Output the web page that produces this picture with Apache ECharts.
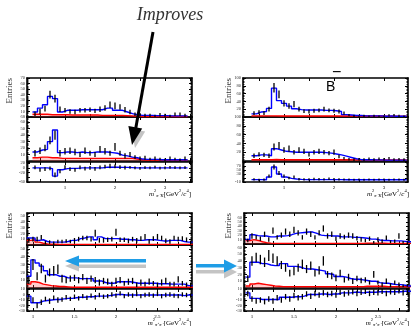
<!DOCTYPE html>
<html><head><meta charset="utf-8">
<script src="https://cdn.jsdelivr.net/npm/echarts@6/dist/echarts.min.js"></script>
<style>html,body{margin:0;padding:0;background:#fff}#c{width:411px;height:326px}</style>
</head><body><div id="c"></div>
<script>
// ---------------- data ----------------
const massPiK = [0.3,0.4,0.5,0.6,0.7,0.8,0.9,1.0,1.1,1.2,1.3,1.4,1.5,1.6,1.7,1.8,1.9,2.0,2.1,2.2,2.3,2.4,2.5,2.6,2.7,2.8,2.9,3.0,3.1,3.2,3.3,3.4];
const massPiPi = [0.95,1.00,1.05,1.10,1.15,1.20,1.25,1.30,1.35,1.40,1.45,1.50,1.55,1.60,1.65,1.70,1.75,1.80,1.85,1.90,1.95,2.00,2.05,2.10,2.15,2.20,2.25,2.30,2.35,2.40,2.45,2.50,2.55,2.60,2.65,2.70,2.75,2.80,2.85,2.90];

// top-left, upper / lower / residual
const tlUpperFit  = [null,9,16,22,37,33,9,12,12,12,13,13,13,13,13,16,16,12,12,9,6,4,3,3,3,2.5,2.5,2.5,2,2,2,2];
const tlUpperData = [null,6,10,15,40,33,14,12,10,9,12,12,13,11,14,16,22,20,18,13,9,5,4,3,3,2,4,3,2,5,5,3];
const tlUpperErr  = [null,4,5,5,7,7,5,4,4,4,4,4,4,4,5,5,6,6,5,5,4,3,3,3,3,2,3,3,2,3,3,3];
const tlUpperBkg  = [null,5,5,5,4,4,4,4,3.5,3.5,3.5,3.5,3.5,3.5,3,3,3,3,3,2.5,2,1.5,1,1,1,1,1,1,1,1,1,1];
const tlLowerFit  = [null,14,17,18,30,48,13,14,14,13,14,13,13,14,14,14,13,12,9,8,6,5,3,2.5,2.5,2.5,2,2,2,2,2,2];
const tlLowerData = [null,12,16,20,32,40,12,15,16,14,10,16,12,10,18,15,12,22,12,8,10,6,4,5,3,4,3,2,4,3,2,4];
const tlLowerErr  = [null,5,5,5,6,7,5,5,5,5,4,5,4,4,5,5,4,6,4,4,4,3,3,3,2,3,2,2,3,2,2,3];
const tlLowerBkg  = [null,5,6,6,5,5,4,4,4,4,4,4,4,4,4,4,4,4,4,4,4,3,2,1.5,1.5,1.5,1.5,1.5,1.5,1.5,1.5,1.5];
const tlResFit    = [null,0,0,0,-3,-35,-8,-3,-2,-2,0,0,0,0,0,3,3,3,2,2,1,0,0,0,0,0,0,0,0,0,0,0];
const tlResData   = [null,2,-8,-5,-2,-30,-15,3,-5,-8,2,-3,0,-4,2,5,8,6,3,1,2,0,-2,1,0,3,-1,0,2,1,0,1];
const tlResErr    = [null,8,8,8,8,10,8,8,8,8,8,8,8,8,8,8,10,8,8,8,6,6,6,6,6,6,6,6,6,6,6,6];

// top-right (B-)
const trUpperFit  = [null,8,13,14,22,74,42,35,28,21,19,18,18,18,18,17,17,16,14,6,5,4,4,3,3,3,3,2,3,2,2,2];
const trUpperData = [null,10,12,10,20,75,58,35,28,33,20,15,14,16,17,20,17,16,14,10,5,3,2,3,2,3,2,2,4,5,3,2];
const trUpperErr  = [null,5,5,5,6,12,10,8,7,8,6,5,5,5,5,6,5,5,5,4,3,3,2,3,2,3,2,2,3,3,3,2];
const trUpperBkg  = [null,3,3,3,3,3,2.5,2.5,2.5,2.5,2.5,2.5,2.5,2.5,2.5,2.5,2.5,2.5,2.5,2.5,2.5,2.5,2.5,2.5,2.5,2.5,2.5,2,2,2,2,2];
const trLowerFit  = [null,12,14,14,12,28,25,22,21,20,20,20,20,20,20,19,18,16,14,11,8,5,3,3,3,2.5,2.5,2,2,2,2,2];
const trLowerData = [null,12,15,14,12,32,35,25,28,20,25,22,15,20,22,20,18,20,10,6,4,3,4,3,5,3,5,4,6,3,4,3];
const trLowerErr  = [null,5,5,5,5,8,8,6,7,5,6,6,5,5,6,5,5,6,4,3,3,3,3,3,3,3,3,3,3,3,3,3];
const trLowerBkg  = [null,3,3,3,3,3.5,3,3,3,3,3,3,3,3,3,3,3,3,3,3,3,2.5,2.5,2.5,2.5,2.5,2.5,2.5,2.5,2.5,2.5,2.5];
const trResFit    = [null,2,2,1,15,65,30,15,8,5,3,2,2,2,2,2,2,2,2,1,1,1,1,1,1,1,1,1,1,1,1,1];
const trResData   = [null,3,0,2,20,65,35,20,10,15,4,3,3,5,4,3,6,4,3,2,2,1,2,1,2,1,2,3,1,2,2,1];
const trResErr    = [null,6,6,6,8,12,10,8,6,8,6,6,6,6,6,6,6,6,6,5,5,5,5,5,5,5,5,5,5,5,5,5];

// bottom-left
const blUpperFit  = [12,12,8,9,6,5,5,5,5,6,8,8,11,12,14,14,9,14,11,11,11,11,10,10,9,9,8,8,9,9,9,8,7,7,8,8,8,6,5,5];
const blUpperData = [8,10,10,13,4,5,3,6,6,7,6,8,10,12,12,10,20,8,8,9,10,22,9,9,7,10,8,11,14,6,11,14,12,7,6,12,10,11,9,4];
const blUpperErr  = [4,4,4,4,3,3,3,3,3,3,3,4,4,4,4,4,6,4,4,4,4,6,4,4,4,4,4,4,5,4,4,5,4,4,4,4,4,4,4,3];
const blUpperBkg  = [8,9,5,3,2,1.5,1.5,1,1,1,1,1,1,1,1,1,1,1,1,1,1,1,1,1,1,1,1,1,1,1,1,1,1,1,1,1,1,1,1,1];
const blLowerFit  = [15,36,32,28,22,17,17,15,15,13,13,13,12,12,12,12,9,9,7,6,6,8,8,8,8,7,6,6,6,6,6,5.5,5.5,5.5,5,5,5,5,3,3];
const blLowerData = [10,30,15,25,12,20,22,24,12,10,12,13,10,14,9,12,10,7,9,8,5,9,10,6,8,9,4,7,5,8,6,4,7,9,5,5,11,6,4,4];
const blLowerErr  = [5,7,5,6,5,5,6,6,5,4,4,4,4,4,4,4,4,4,4,4,3,4,4,3,4,4,3,4,3,4,3,3,4,4,3,3,4,3,3,3];
const blLowerBkg  = [5,8,7,5,4,3,2.5,2,2,1.5,1,1,1,1,1,1,1,1,1,1,1,1,1,1,1,1,1,1,1,1,1,1,1,1,1,1,1,1,1,1];
const blResFit    = [-3,-15,-15,-12,-11,-10,-9,-9,-8,-7,-7,-6,-5,-5,-4,-4,-3,-3,-3,-2,-1,0,0,-1,-1,-1,-1,-1,-1,-1,-1,-1,-1,-1,-1,-1,-1,-2,-1,-1];
const blResData   = [-5,-10,-20,-14,-8,-12,-6,-10,-9,-5,-8,-4,-7,-3,-6,-2,-5,-1,-4,-3,0,-2,2,-3,0,-2,1,-3,-1,0,-2,1,-3,-1,0,-2,-3,0,-1,-2];
const blResErr    = [4,5,5,5,4,5,4,5,4,4,4,4,4,4,4,4,4,4,4,4,4,4,4,4,4,4,4,4,4,4,4,4,4,4,4,4,4,4,4,4];

// bottom-right
const brUpperFit  = [10,21,19,18,18,16,16,18,18,19,21,24,25,26,27,27,24,20,19,19,18,18,16,16,16,15,15,14,13,11,11,9,8,8,7,7,7,6,5,5];
const brUpperData = [8,18,15,12,22,10,30,15,20,28,22,32,25,15,28,22,15,25,35,18,22,12,18,16,20,18,13,10,8,12,4,10,6,14,5,6,18,4,3,3];
const brUpperErr  = [4,6,5,5,6,5,7,5,6,7,6,7,6,5,7,6,5,6,7,6,6,5,6,5,6,6,5,5,4,5,3,5,4,5,3,4,6,3,3,3];
const brUpperBkg  = [8,10,8,5,3,2,1.5,1.5,1.5,1.5,1.5,1.5,1.5,1.5,1.5,1.5,1.5,1.5,1.5,1.5,1.5,1.5,1.5,1.5,1.5,1.5,1.5,1.5,2,2,2,2,2,1.5,1.5,1.5,1.5,1.5,1.5,1.5];
const brLowerFit  = [16,38,38,36,36,34,33,33,36,36,32,32,31,29,28,28,27,26,25,21,20,17,17,16,14,13,13,12,11,10,10,8,7,7,6,5,5,4,3,3];
const brLowerData = [14,40,45,42,38,48,44,40,34,30,22,25,30,35,28,33,22,26,40,20,18,15,22,12,16,10,14,11,12,8,20,8,5,10,4,8,5,3,4,4];
const brLowerErr  = [5,7,7,7,7,8,7,7,6,6,5,6,6,7,6,6,5,6,7,5,5,5,5,4,5,4,4,4,4,3,5,3,3,4,3,3,3,2,2,2];
const brLowerBkg  = [3,6,7,6,5,4,3,2.5,2,2,2,2,2,2,2,2,2,2,2,2,2,2,2,2,2,2,2,2,2.5,2.5,2.5,2.5,2.5,2,2,2,2,2,2,2];
const brResFit    = [3,-7,-7,-9,-9,-9,-9,-9,-5,-5,-5,-4,-4,-3,0,0,0,1,1,0,1,1,3,3,3,4,4,3,4,4,4,5,5,5,5,5,5,6,6,6];
const brResData   = [2,-8,-12,-10,-13,-8,-12,-6,-10,-4,-8,-2,-6,-4,1,-3,2,-1,3,0,2,-1,4,1,3,5,2,4,6,2,4,3,6,2,5,4,7,3,5,5];
const brResErr    = [5,5,5,5,5,5,5,5,5,5,5,5,5,5,5,5,5,5,5,5,5,5,5,5,5,5,5,5,5,5,5,5,5,5,5,5,5,5,5,5];

const ticksPiK = [0.5,1,1.5,2,2.5,3,3.5];
const labelsPiK = [1,2,3];
const ticksPiPi = [1,1.25,1.5,1.75,2,2.25,2.5,2.75];
const labelsPiPi = [1,1.5,2,2.5];

// ---------------- layout ----------------
const panels = [
  {bins:massPiK, fit:tlUpperFit, data:tlUpperData, err:tlUpperErr, bkg:tlUpperBkg, g:[27,78,165,39], x:[0.24,3.54], y:[0,70,10], t:ticksPiK},
  {bins:massPiK, fit:tlLowerFit, data:tlLowerData, err:tlLowerErr, bkg:tlLowerBkg, g:[27,117,165,44], x:[0.24,3.54], y:[0,68,10], t:ticksPiK},
  {bins:massPiK, fit:tlResFit, data:tlResData, err:tlResErr, g:[27,162,165,20], x:[0.24,3.54], y:[-60,25,20], t:ticksPiK, l:labelsPiK},
  {bins:massPiK, fit:trUpperFit, data:trUpperData, err:trUpperErr, bkg:trUpperBkg, g:[243,78,165,39], x:[0.18,3.48], y:[0,100,20], t:ticksPiK},
  {bins:massPiK, fit:trLowerFit, data:trLowerData, err:trLowerErr, bkg:trLowerBkg, g:[243,117,165,44], x:[0.18,3.48], y:[0,100,20], t:ticksPiK},
  {bins:massPiK, fit:trResFit, data:trResData, err:trResErr, g:[243,162,165,20], x:[0.18,3.48], y:[-10,90,20], t:ticksPiK, l:labelsPiK},
  {bins:massPiPi, fit:blUpperFit, data:blUpperData, err:blUpperErr, bkg:blUpperBkg, g:[27,213,165,32], x:[0.928,2.916], y:[0,55,10], t:ticksPiPi},
  {bins:massPiPi, fit:blLowerFit, data:blLowerData, err:blLowerErr, bkg:blLowerBkg, g:[27,245,165,43], x:[0.928,2.916], y:[0,55,10], t:ticksPiPi},
  {bins:massPiPi, fit:blResFit, data:blResData, err:blResErr, g:[27,289,165,22], x:[0.928,2.916], y:[-30,10,10], t:ticksPiPi, l:labelsPiPi},
  {bins:massPiPi, fit:brUpperFit, data:brUpperData, err:brUpperErr, bkg:brUpperBkg, g:[244,213,165,31], x:[0.905,2.87], y:[0,70,10], t:ticksPiPi},
  {bins:massPiPi, fit:brLowerFit, data:brLowerData, err:brLowerErr, bkg:brLowerBkg, g:[244,244,165,44], x:[0.905,2.87], y:[0,65,10], t:ticksPiPi},
  {bins:massPiPi, fit:brResFit, data:brResData, err:brResErr, g:[244,289,165,22], x:[0.905,2.87], y:[-30,10,10], t:ticksPiPi, l:labelsPiPi}
];

function stepData(bins, vals) {
  const w = bins[1] - bins[0];
  const out = bins.map((c, i) => [c - w / 2, vals[i] == null ? '-' : vals[i]]);
  out.push([bins[bins.length - 1] + w / 2, vals[vals.length - 1]]);
  return out;
}

const grid = [], xAxis = [], yAxis = [], series = [];
const FONT = 'Liberation Serif';
panels.forEach((p, i) => {
  grid.push({left:p.g[0], top:p.g[1], width:p.g[2], height:p.g[3], containLabel:false});
  const axLine = {onZero:false, lineStyle:{color:'#000', width:1.6}};
  const xBase = {type:'value', gridIndex:i, min:p.x[0], max:p.x[1], splitLine:{show:false}, axisLine:axLine,
    axisTick:{inside:true, length:3, customValues:p.t, lineStyle:{color:'#000', width:1}}};
  xAxis.push(Object.assign({}, xBase, {position:'bottom',
    axisLabel:p.l ? {show:true, customValues:p.l, fontSize:5, fontFamily:FONT, color:'#000', margin:3} : {show:false}}));
  xAxis.push(Object.assign({}, xBase, {position:'top', axisLabel:{show:false}}));
  const yBase = {type:'value', gridIndex:i, min:p.y[0], max:p.y[1], interval:p.y[2], splitLine:{show:false}, axisLine:axLine,
    axisTick:{inside:true, length:3, lineStyle:{color:'#000', width:1}},
    minorTick:{show:true, splitNumber:5, length:1.5, lineStyle:{color:'#000', width:0.8}}};
  yAxis.push(Object.assign({}, yBase, {position:'left',
    axisLabel:{show:true, fontSize:4.5, fontFamily:FONT, color:'#333', margin:2, showMinLabel: p.y[0] < 0}}));
  yAxis.push(Object.assign({}, yBase, {position:'right', axisLabel:{show:false}}));
  const xi = 2 * i, yi = 2 * i;
  if (p.bkg) {
    series.push({type:'line', xAxisIndex:xi, yAxisIndex:yi, step:'end', symbol:'none', data:stepData(p.bins, p.bkg),
      lineStyle:{color:'#ff0000', width:1.4}, areaStyle:{color:'rgba(255,40,40,0.35)'}, z:2, silent:true});
  }
  series.push({type:'line', xAxisIndex:xi, yAxisIndex:yi, step:'end', symbol:'none', data:stepData(p.bins, p.fit),
    lineStyle:{color:'#0000ff', width:1.4}, z:3, silent:true});
  const pts = [];
  p.bins.forEach((c, k) => { if (p.data[k] != null) pts.push([c, p.data[k], p.err[k]]); });
  const ymin = p.y[0], ymax = p.y[1];
  series.push({type:'custom', xAxisIndex:xi, yAxisIndex:yi, data:pts, z:4, silent:true,
    renderItem: (params, api) => {
      const x = api.value(0), y = api.value(1), e = api.value(2);
      const lo = Math.max(ymin, y - e), hi = Math.min(ymax, y + e);
      if (hi <= lo) return null;
      const a = api.coord([x, lo]), b = api.coord([x, hi]);
      return {type:'line', shape:{x1:a[0], y1:a[1], x2:b[0], y2:b[1]}, style:{stroke:'#000', lineWidth:1.3}};
    }});
});

// ---------------- annotations ----------------
const richTitle = {
  i:{fontFamily:FONT, fontStyle:'italic', fontSize:7, lineHeight:10, verticalAlign:'bottom'},
  n:{fontFamily:FONT, fontSize:7, lineHeight:10, verticalAlign:'bottom'},
  sup:{fontFamily:FONT, fontSize:4.5, lineHeight:10, verticalAlign:'top'},
  sub:{fontFamily:FONT, fontStyle:'italic', fontSize:4.5, lineHeight:8, verticalAlign:'bottom'}
};
function xTitle(x, y, sub) {
  return {type:'text', x:x, y:y, z:100, style:{
    text:'{i|m}{sup|2}{sub|' + sub + '}{n|[GeV}{sup|2}{n|/}{i|c}{sup|4}{n|]}',
    rich:richTitle, align:'right', verticalAlign:'middle', fill:'#000'}};
}
function entries(x, y) {
  return {type:'text', x:x, y:y, rotation:Math.PI / 2, z:100,
    style:{text:'Entries', font:'9px "Liberation Serif"', fill:'#333', align:'right', verticalAlign:'middle'}};
}
const BLUE = '#1f9de6', GREY = '#c4c4c4';
const graphic = [
  entries(10, 78), entries(229, 78), entries(10, 213), entries(229, 213),
  xTitle(191, 193, 'π⁻K'), xTitle(409, 193, 'π⁻K'), xTitle(191, 322, 'π⁺π⁻'), xTitle(409, 322, 'π⁺π⁻'),
  {type:'text', x:170, y:15, z:100, style:{text:'Improves', font:'italic 18px "Liberation Serif"', fill:'#333', align:'center', verticalAlign:'middle'}},
  // black arrow with grey shadow
  {type:'polygon', z:99, shape:{points:[[135,148],[145.2,131.6],[131.4,129]]}, style:{fill:GREY}},
  {type:'line', z:100, shape:{x1:153, y1:32, x2:135.8, y2:128}, style:{stroke:'#000', lineWidth:3}},
  {type:'polygon', z:100, shape:{points:[[132,145],[142.2,128.6],[128.4,126]]}, style:{fill:'#000'}},
  // blue arrow (left pointing) with grey shadow
  {type:'rect', z:99, shape:{x:78, y:264.5, width:68, height:3.5}, style:{fill:GREY}},
  {type:'polygon', z:99, shape:{points:[[65,266],[79,260.5],[79,271.5]]}, style:{fill:GREY}},
  {type:'rect', z:100, shape:{x:78, y:259, width:68, height:3.5}, style:{fill:BLUE}},
  {type:'polygon', z:100, shape:{points:[[65,261],[79,255.5],[79,266.5]]}, style:{fill:BLUE}},
  // blue arrow (right pointing) with grey shadow
  {type:'rect', z:99, shape:{x:196, y:270, width:29, height:3.5}, style:{fill:GREY}},
  {type:'polygon', z:99, shape:{points:[[237,272],[224,265.5],[224,278.5]]}, style:{fill:GREY}},
  {type:'rect', z:100, shape:{x:196, y:264, width:29, height:3.5}, style:{fill:BLUE}},
  {type:'polygon', z:100, shape:{points:[[237,266],[224,259.5],[224,272.5]]}, style:{fill:BLUE}},
  // B- label
  {type:'text', x:326, y:87, z:100, style:{text:'B', font:'14px "Liberation Sans"', fill:'#000', align:'left', verticalAlign:'middle'}},
  {type:'text', x:332, y:73, z:100, style:{text:'−', font:'16px "Liberation Sans"', fill:'#000', align:'left', verticalAlign:'middle'}}
];

const chart = echarts.init(document.getElementById('c'), null, {renderer:'canvas'});
chart.setOption({animation:false, backgroundColor:'#fff', grid, xAxis, yAxis, series, graphic});
</script></body></html>
